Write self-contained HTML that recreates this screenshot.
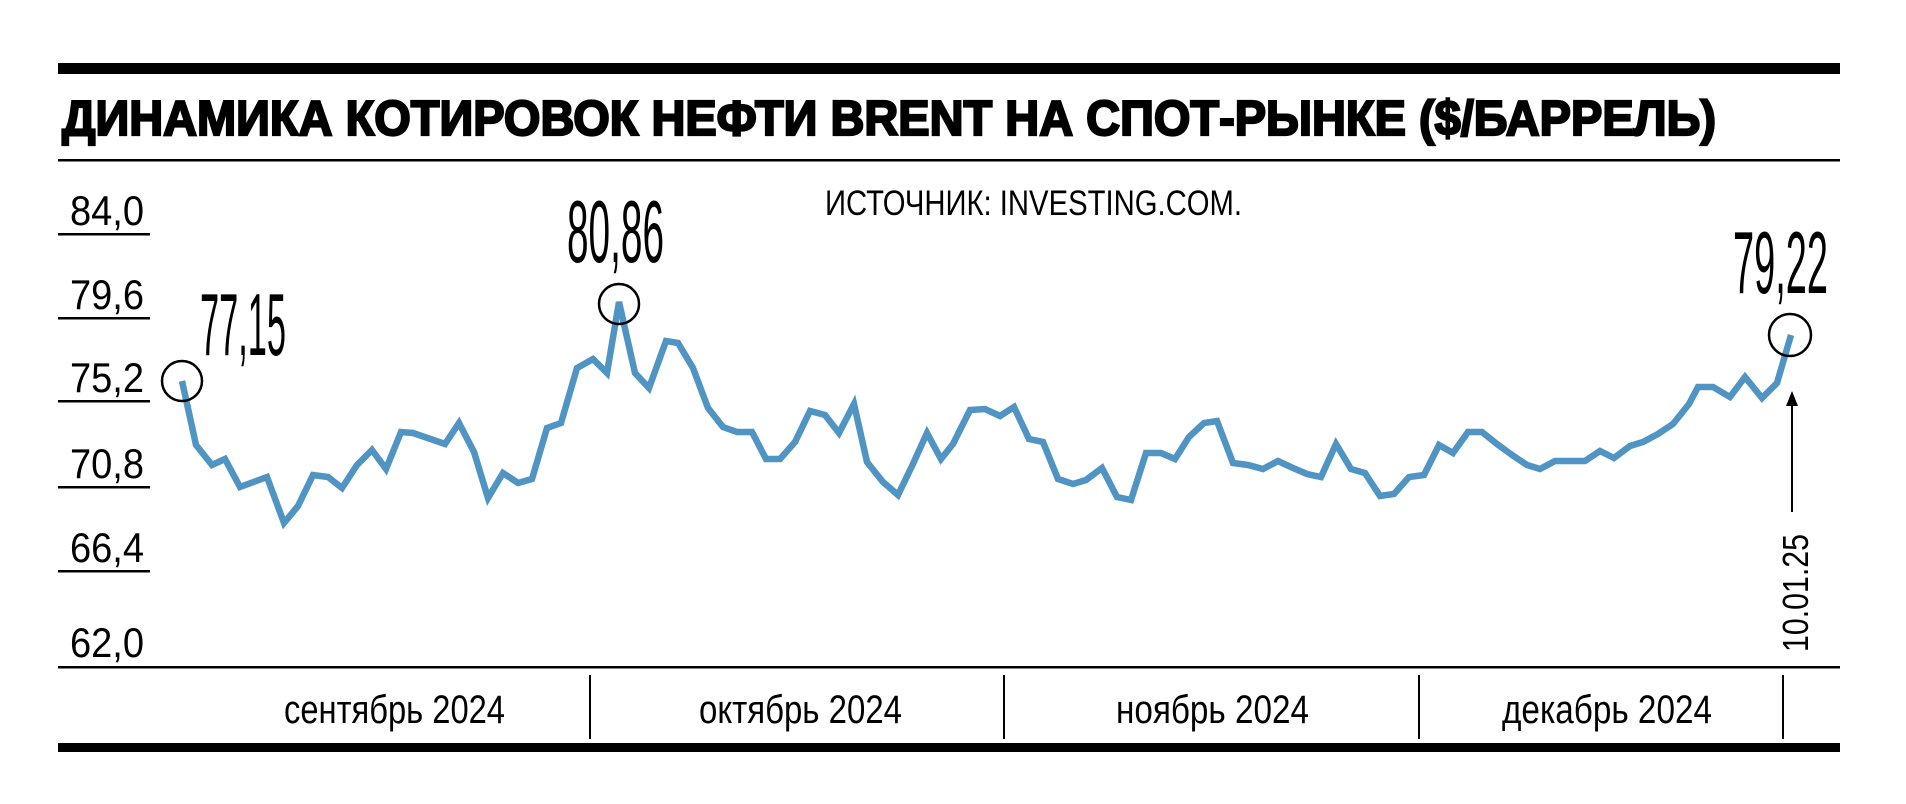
<!DOCTYPE html>
<html><head><meta charset="utf-8"><style>
html,body{margin:0;padding:0;background:#fff;}
svg{display:block;}
text{font-family:"Liberation Sans Narrow","Liberation Sans",sans-serif;fill:#000;}
</style></head><body>
<svg width="1906" height="804" viewBox="0 0 1906 804" xmlns="http://www.w3.org/2000/svg">
<rect x="58" y="63" width="1782" height="11" fill="#000"/>
<text x="62" y="135" font-family="Liberation Sans" font-weight="bold" font-size="49" textLength="1654" lengthAdjust="spacingAndGlyphs" style="font-family:'Liberation Sans',sans-serif;font-weight:900;stroke:#000;stroke-width:2.2">ДИНАМИКА КОТИРОВОК НЕФТИ BRENT НА СПОТ-РЫНКЕ ($/БАРРЕЛЬ)</text>
<rect x="58" y="159" width="1782" height="2.5" fill="#000"/>
<text x="825" y="215" font-size="35" textLength="417" lengthAdjust="spacingAndGlyphs">ИСТОЧНИК: INVESTING.COM.</text>

<g font-size="42">
<text x="70" y="225" textLength="74" lengthAdjust="spacingAndGlyphs">84,0</text>
<text x="70" y="309" textLength="74" lengthAdjust="spacingAndGlyphs">79,6</text>
<text x="70" y="392" textLength="74" lengthAdjust="spacingAndGlyphs">75,2</text>
<text x="70" y="478" textLength="74" lengthAdjust="spacingAndGlyphs">70,8</text>
<text x="70" y="562" textLength="74" lengthAdjust="spacingAndGlyphs">66,4</text>
<text x="70" y="657" textLength="74" lengthAdjust="spacingAndGlyphs">62,0</text>
</g>
<g fill="#000">
<rect x="58" y="233" width="92" height="2.5"/>
<rect x="58" y="317" width="92" height="2.5"/>
<rect x="58" y="400" width="92" height="2.5"/>
<rect x="58" y="486" width="92" height="2.5"/>
<rect x="58" y="570" width="92" height="2.5"/>
<rect x="58" y="666" width="1782" height="2.5"/>
<rect x="58" y="743" width="1782" height="9"/>
<rect x="589" y="675" width="2" height="64"/>
<rect x="1003" y="675" width="2" height="64"/>
<rect x="1418" y="675" width="2" height="64"/>
<rect x="1782" y="675" width="2" height="64"/>
</g>
<g font-size="40">
<text x="284" y="723" textLength="221" lengthAdjust="spacingAndGlyphs">сентябрь 2024</text>
<text x="699" y="723" textLength="203" lengthAdjust="spacingAndGlyphs">октябрь 2024</text>
<text x="1116" y="723" textLength="193" lengthAdjust="spacingAndGlyphs">ноябрь 2024</text>
<text x="1502" y="723" textLength="210" lengthAdjust="spacingAndGlyphs">декабрь 2024</text>
</g>

<polyline fill="none" stroke="#4f94c2" stroke-width="6.5" stroke-linejoin="miter" points="182,381 196,445 212,465 225,459 240,487 267,477 284,523 298,506 313,475 328,477 342,488 357,465 372,450 386,469 401,432 413,433 445,444 459,423 474,452 488,498 503,473 518,483 532,479 547,428 561,423 577,368 593,359 607,373 619,302 635,373 649,388 666,341 678,343 693,368 708,408 723,427 737,432 752,432 766,459 780,459 795,442 810,411 825,415 839,433 854,404 867,462 883,482 898,495 912,466 927,433 941,459 953,444 970,410 985,409 1000,416 1014,407 1029,439 1043,442 1058,479 1073,484 1086,480 1102,468 1117,497 1131,500 1146,453 1161,453 1175,459 1189,437 1204,423 1217,421 1233,463 1248,465 1263,469 1278,461 1293,468 1307,474 1321,477 1336,444 1351,469 1365,473 1380,496 1394,494 1409,477 1424,475 1439,445 1453,453 1468,432 1482,432 1497,444 1512,455 1527,465 1540,469 1555,461 1585,461 1600,451 1614,458 1630,446 1643,442 1658,434 1673,424 1689,404 1698,387 1713,387 1730,397 1745,377 1762,398 1777,383 1791,335"/>

<g fill="none" stroke="#000" stroke-width="2.5">
<circle cx="182" cy="381" r="20"/>
<circle cx="619" cy="304" r="20"/>
<circle cx="1790" cy="335" r="21"/>
</g>
<g font-size="88">
<text x="200" y="355" textLength="86" lengthAdjust="spacingAndGlyphs">77,15</text>
<text x="567" y="262" textLength="97" lengthAdjust="spacingAndGlyphs">80,86</text>
<text x="1733" y="293" textLength="95" lengthAdjust="spacingAndGlyphs">79,22</text>
</g>
<line x1="1792" y1="405" x2="1792" y2="512" stroke="#000" stroke-width="2"/>
<polygon points="1792,391 1786,406 1798,406" fill="#000"/>
<text transform="translate(1808,652) rotate(-90)" font-size="36" style="font-family:'Liberation Sans',sans-serif" textLength="118" lengthAdjust="spacingAndGlyphs">10.01.25</text>
</svg>
</body></html>
